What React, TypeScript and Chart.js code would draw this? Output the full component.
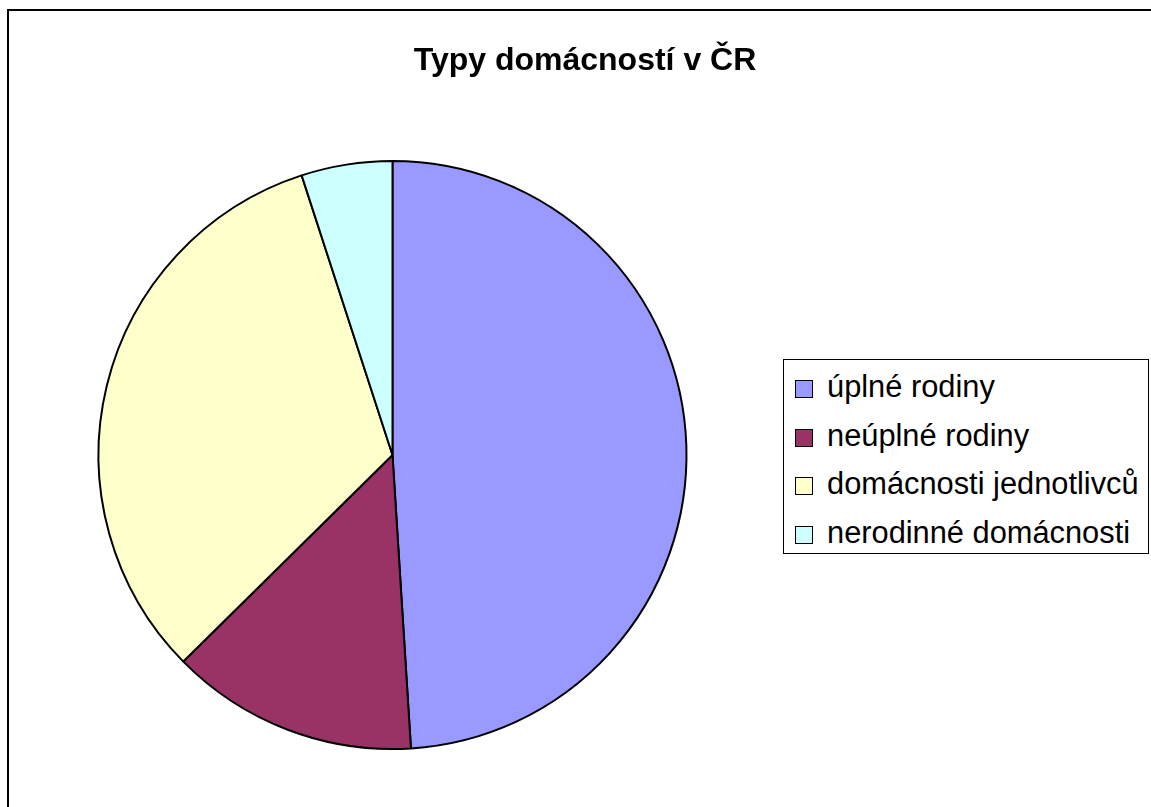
import React, { useEffect, useRef } from "react";
import { Chart, registerables } from "chart.js";

Chart.register(...registerables);

const chartTitle = "Typy domácností v ČR";
const categories = [
  "úplné rodiny",
  "neúplné rodiny",
  "domácnosti jednotlivců",
  "nerodinné domácnosti",
];
const shares = [49.0, 13.6, 32.4, 5.0];
const sliceColors = ["#9999FF", "#993366", "#FFFFCC", "#CCFFFF"];

const W = 1151;
const H = 807;

export default function App() {
  const canvasRef = useRef<HTMLCanvasElement | null>(null);

  useEffect(() => {
    if (!canvasRef.current) return;
    const chart = new Chart(canvasRef.current, {
      type: "pie",
      data: {
        labels: categories,
        datasets: [
          {
            data: shares,
            backgroundColor: sliceColors,
            borderColor: "#000000",
            borderWidth: 2,
          },
        ],
      },
      options: {
        responsive: false,
        animation: false,
        layout: {
          padding: { left: 97, top: 160, right: W - 688, bottom: H - 750 },
        },
        plugins: {
          legend: { display: false },
          title: { display: false },
          tooltip: { enabled: false },
        },
      },
    });
    return () => chart.destroy();
  }, []);

  const font = '"Liberation Sans", Arial, sans-serif';

  return (
    <div
      style={{
        position: "absolute",
        left: 0,
        top: 0,
        width: W,
        height: H,
        background: "#fff",
        overflow: "hidden",
        fontFamily: font,
      }}
    >
      <div
        style={{
          position: "absolute",
          left: 7,
          top: 9,
          width: W + 20,
          height: H + 20,
          borderTop: "2px solid #000",
          borderLeft: "2px solid #000",
          boxSizing: "border-box",
        }}
      />
      <canvas
        ref={canvasRef}
        width={W}
        height={H}
        style={{ position: "absolute", left: 0, top: 0 }}
      />
      <div
        style={{
          position: "absolute",
          left: 0,
          top: 43,
          width: 1170,
          textAlign: "center",
          fontWeight: "bold",
          fontSize: 32,
          lineHeight: "32px",
          color: "#000",
          whiteSpace: "nowrap",
        }}
      >
        {chartTitle}
      </div>
      <div
        style={{
          position: "absolute",
          left: 783,
          top: 359,
          width: 366,
          height: 195,
          border: "1px solid #000",
          boxSizing: "border-box",
          background: "#fff",
        }}
      >
        {categories.map((c, i) => (
          <div
            key={c}
            style={{
              position: "absolute",
              left: 11,
              top: 10 + i * 48.5,
              height: 34,
              display: "flex",
              alignItems: "center",
              whiteSpace: "nowrap",
              fontSize: 30.8,
              lineHeight: "34px",
              color: "#000",
            }}
          >
            <span
              style={{
                display: "inline-block",
                width: 18,
                height: 18,
                boxSizing: "border-box",
                border: "1px solid #000",
                background: sliceColors[i],
                marginRight: 14,
                marginTop: 4,
              }}
            />
            <span>{c}</span>
          </div>
        ))}
      </div>
    </div>
  );
}
